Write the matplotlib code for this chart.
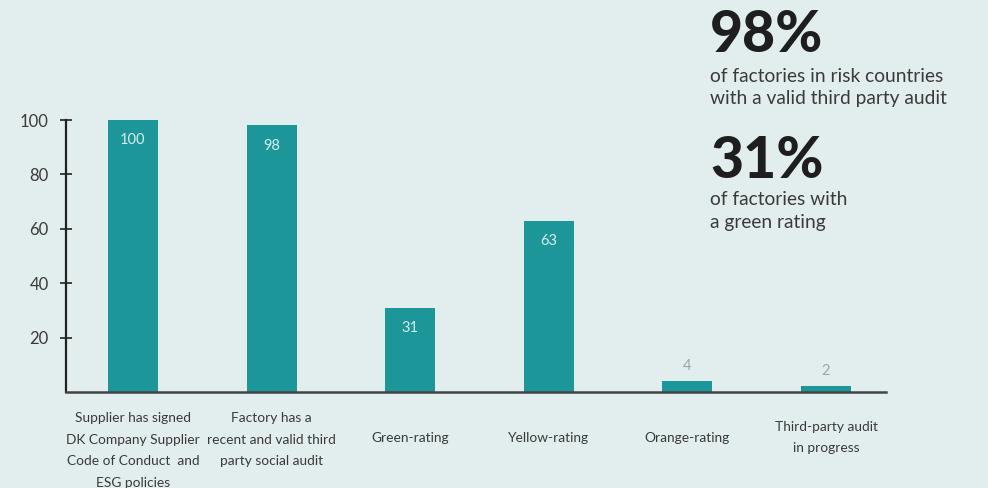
import matplotlib
matplotlib.use("Agg")
import matplotlib.pyplot as plt
import matplotlib.transforms as mtransforms

plt.rcParams['font.family'] = ['Lato', 'DejaVu Sans']

categories = [
    "Supplier has signed\nDK Company Supplier\nCode of Conduct  and\nESG policies",
    "Factory has a\nrecent and valid third\nparty social audit",
    "Green-rating",
    "Yellow-rating",
    "Orange-rating",
    "Third-party audit\nin progress",
]
values = [100, 98, 31, 63, 4, 2]
yticks = [20, 40, 60, 80, 100]

headline_1 = "98%"
caption_1 = "of factories in risk countries\nwith a valid third party audit"
headline_2 = "31%"
caption_2 = "of factories with\na green rating"

BG = "#e2eeee"
TEAL = "#1d9699"
DARK = "#3a3a3a"

fig = plt.figure(figsize=(9.88, 4.88), dpi=100, facecolor=BG)
ax = fig.add_axes([0.0668, 0.197, 0.830, 0.557], facecolor=BG)

x = list(range(len(values)))
bars = ax.bar(x, values, width=0.36, color=TEAL, zorder=2)

ax.set_xlim(-0.483, len(values) - 1 + 0.433)
ax.set_ylim(0, 100)
ax.set_yticks(yticks)
ax.set_yticklabels([str(t) for t in yticks], fontsize=12, color=DARK)
ax.tick_params(axis='y', direction='inout', length=9, width=1.2, color="#222222", pad=8)
ax.set_xticks([])

for side in ("top", "right"):
    ax.spines[side].set_visible(False)
ax.spines["left"].set_linewidth(1.6)
ax.spines["left"].set_color("#222222")
ax.spines["bottom"].set_linewidth(1.8)
ax.spines["bottom"].set_color("#444444")
ax.spines["left"].set_zorder(3)
ax.spines["bottom"].set_zorder(3)

# value labels: inside the bar for tall bars, above it for short ones
for xi, v in zip(x, values):
    if v > 10:
        ax.annotate(str(v), (xi, v), xytext=(0, -14.5), textcoords="offset points",
                    ha="center", va="center", fontsize=10.5, color="#d6eeee")
    else:
        ax.annotate(str(v), (xi, v), xytext=(0, 11), textcoords="offset points",
                    ha="center", va="center", fontsize=10.5, color="#9aa6a6")

# category labels under the axis
trans = mtransforms.blended_transform_factory(ax.transData, ax.transAxes)
for xi, label in zip(x, categories):
    n_lines = label.count("\n") + 1
    if n_lines >= 3:
        ax.text(xi, -0.075, label, transform=trans, ha="center", va="top",
                fontsize=9.9, color=DARK, linespacing=1.95)
    else:
        ax.text(xi, -0.168, label, transform=trans, ha="center", va="center",
                fontsize=9.9, color=DARK, linespacing=1.85)

# key figures on the right
fig.text(0.719, 1 - 35 / 488, headline_1, fontsize=41, fontweight="black",
         color="#1e1e1e", ha="left", va="center")
fig.text(0.719, 1 - 87.5 / 488, caption_1, fontsize=13.8, color=DARK,
         ha="left", va="center", linespacing=1.4)
fig.text(0.719, 1 - 162 / 488, headline_2, fontsize=41, fontweight="black",
         color="#1e1e1e", ha="left", va="center")
fig.text(0.719, 1 - 211 / 488, caption_2, fontsize=13.8, color=DARK,
         ha="left", va="center", linespacing=1.4)

fig.savefig("out.png", dpi=100, facecolor=BG)
